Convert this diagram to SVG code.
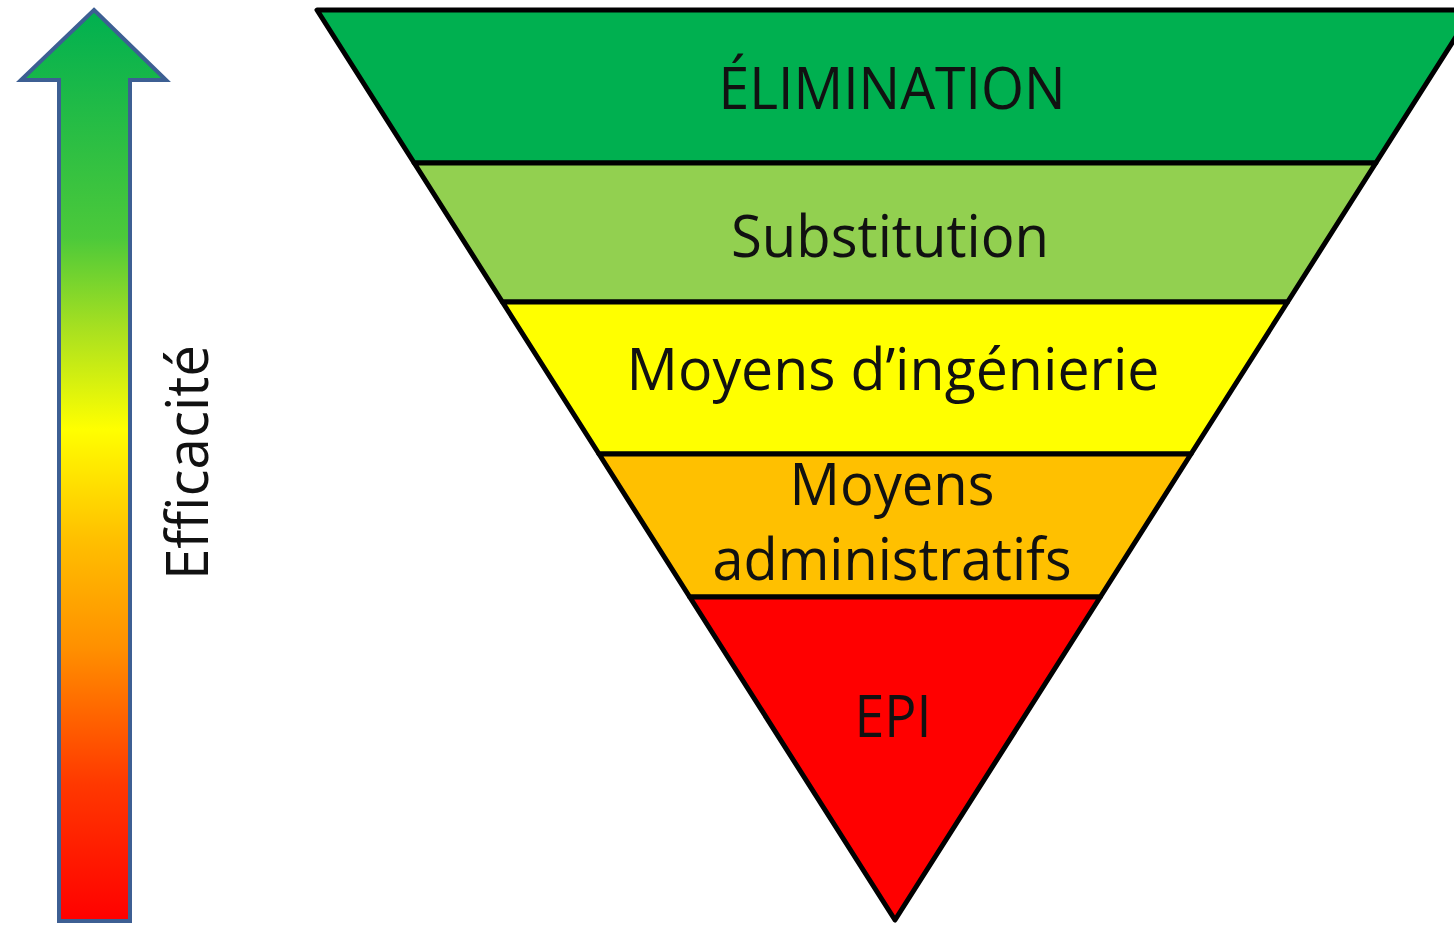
<svg xmlns="http://www.w3.org/2000/svg" width="1454" height="925" viewBox="0 0 1454 925">
  <style>
    .band { stroke: #000; stroke-width: 5; stroke-linejoin: round; }
    .lbl { font-family: "Open Sans", "Liberation Sans", sans-serif; font-size: 58px; fill: #111; text-anchor: middle; }
  </style>
  <defs>
    <linearGradient id="effGrad" gradientUnits="userSpaceOnUse" x1="0" y1="10" x2="0" y2="921">
      <stop offset="0" stop-color="#00B050"/>
      <stop offset="0.25" stop-color="#4CC93A"/>
      <stop offset="0.35" stop-color="#A8E020"/>
      <stop offset="0.46" stop-color="#FFFF00"/>
      <stop offset="0.58" stop-color="#FFC000"/>
      <stop offset="0.7" stop-color="#FF9000"/>
      <stop offset="0.85" stop-color="#FF3800"/>
      <stop offset="1" stop-color="#FF0000"/>
    </linearGradient>
  </defs>
  <rect width="1454" height="925" fill="#ffffff"/>

  <g id="arrow-efficacite">
    <path d="M94,10 L166,80 L130,80 L130,921 L59,921 L59,80 L21,80 Z" fill="url(#effGrad)" stroke="#3D5F93" stroke-width="4" stroke-linejoin="miter"/>
    <text class="lbl" transform="translate(208,580) rotate(-90)" x="0" y="0" style="text-anchor:start" textLength="235" lengthAdjust="spacingAndGlyphs">Efficacité</text>
  </g>

  <g id="band-elimination">
    <polygon class="band" points="317,10 1473,10 1375.8,163 414.2,163" fill="#00B050"/>
    <text class="lbl" x="892" y="109" textLength="347" lengthAdjust="spacingAndGlyphs">ÉLIMINATION</text>
  </g>
  <g id="band-substitution">
    <polygon class="band" points="414.2,163 1375.8,163 1287.6,302 502.4,302" fill="#92D050"/>
    <text class="lbl" x="890" y="257" textLength="318" lengthAdjust="spacingAndGlyphs">Substitution</text>
  </g>
  <g id="band-ingenierie">
    <polygon class="band" points="502.4,302 1287.6,302 1191,454 599,454" fill="#FFFF00"/>
    <text class="lbl" x="893" y="390" textLength="533" lengthAdjust="spacingAndGlyphs">Moyens d’ingénierie</text>
  </g>
  <g id="band-administratifs">
    <polygon class="band" points="599,454 1191,454 1100.3,597 689.7,597" fill="#FFC000"/>
    <text class="lbl" x="892" y="505" textLength="205" lengthAdjust="spacingAndGlyphs">Moyens</text>
    <text class="lbl" x="892" y="580" textLength="359" lengthAdjust="spacingAndGlyphs">administratifs</text>
  </g>
  <g id="band-epi">
    <polygon class="band" points="689.7,597 1100.3,597 895,920" fill="#FF0000"/>
    <text class="lbl" x="893" y="737" textLength="77" lengthAdjust="spacingAndGlyphs">EPI</text>
  </g>
  <g id="connectors"></g>
</svg>
